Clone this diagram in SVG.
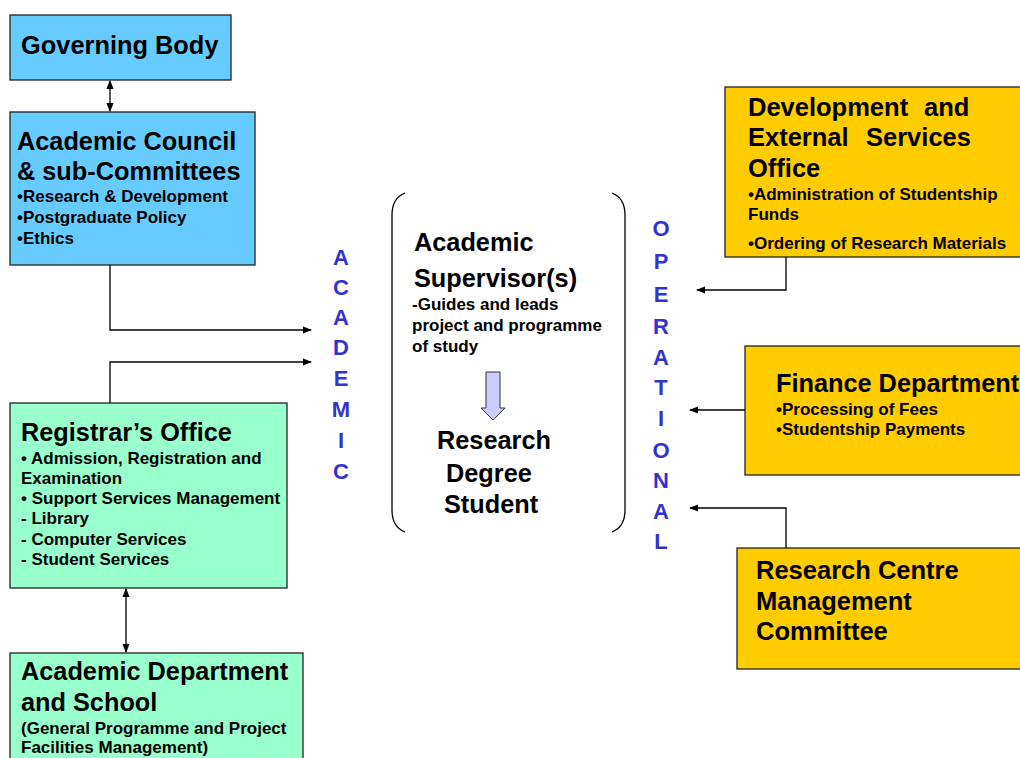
<svg xmlns="http://www.w3.org/2000/svg" width="1020" height="758" viewBox="0 0 1020 758">
<style>
text{font-family:"Liberation Sans",Arial,sans-serif;font-weight:bold;fill:#000}
.blue{fill:#66CCFF;stroke:#222;stroke-width:1.3}
.green{fill:#99FFCC;stroke:#222;stroke-width:1.3}
.gold{fill:#FFCC00;stroke:#222;stroke-width:1.3}
.h{font-size:25.3px}
.s{font-size:17px}
.v{font-size:22px;fill:#3333CC;text-anchor:middle}
.c{fill:none;stroke:#000;stroke-width:1.3}
</style>
<defs>
<marker id="ah" viewBox="0 0 10 10" refX="9" refY="5" markerWidth="9" markerHeight="9" markerUnits="userSpaceOnUse" orient="auto-start-reverse">
<path d="M0,1 L10,5 L0,9 Z" fill="#000"/>
</marker>
</defs>
<rect width="1020" height="758" fill="#fff"/>

<g id="governing-body">
<rect class="blue" x="10" y="15" width="221" height="65"/>
<text class="h" x="21" y="54" style="font-size:25.4px">Governing Body</text>
</g>

<g id="academic-council">
<rect class="blue" x="10" y="112" width="245" height="153"/>
<text class="h" x="17" y="150">Academic Council</text>
<text class="h" x="17" y="180">&amp; sub-Committees</text>
<text class="s" x="17" y="202">•Research &amp; Development</text>
<text class="s" x="17" y="223">•Postgraduate Policy</text>
<text class="s" x="17" y="244">•Ethics</text>
</g>

<g id="registrars-office">
<rect class="green" x="10" y="403" width="277" height="185"/>
<text class="h" x="21" y="441">Registrar’s Office</text>
<text class="s" x="21" y="464">• Admission, Registration and</text>
<text class="s" x="21" y="484">Examination</text>
<text class="s" x="21" y="504">• Support Services Management</text>
<text class="s" x="21" y="524">- Library</text>
<text class="s" x="21" y="545">- Computer Services</text>
<text class="s" x="21" y="565">- Student Services</text>
</g>

<g id="academic-department">
<rect class="green" x="10" y="653" width="293" height="110"/>
<text class="h" x="21" y="680">Academic Department</text>
<text class="h" x="21" y="711">and School</text>
<text class="s" x="21" y="734">(General Programme and Project</text>
<text class="s" x="21" y="753">Facilities Management)</text>
</g>

<g id="supervisor-student">
<path class="c" d="M405,193 Q392,198 392,215 L392,510 Q392,527 405,532"/>
<path class="c" d="M612,193 Q625,198 625,215 L625,510 Q625,527 612,532"/>
<text class="h" x="414" y="251">Academic</text>
<text class="h" x="414" y="287">Supervisor(s)</text>
<text class="s" x="412" y="310">-Guides and leads</text>
<text class="s" x="412" y="331">project and programme</text>
<text class="s" x="412" y="352">of study</text>
<path d="M486,372 L500,372 L500,408 L505,408 L493,420 L481,408 L486,408 Z" fill="#CCCCFF" stroke="#333" stroke-width="1"/>
<text class="h" x="437" y="449">Research</text>
<text class="h" x="446" y="482">Degree</text>
<text class="h" x="444" y="513">Student</text>
</g>

<g id="academic-label">
<text class="v" x="341" y="265">A</text>
<text class="v" x="341" y="295">C</text>
<text class="v" x="341" y="325">A</text>
<text class="v" x="341" y="355">D</text>
<text class="v" x="341" y="386">E</text>
<text class="v" x="341" y="417">M</text>
<text class="v" x="341" y="448">I</text>
<text class="v" x="341" y="479">C</text>
</g>

<g id="operational-label">
<text class="v" x="661" y="236">O</text>
<text class="v" x="661" y="269">P</text>
<text class="v" x="661" y="302">E</text>
<text class="v" x="661" y="334">R</text>
<text class="v" x="661" y="365">A</text>
<text class="v" x="661" y="395">T</text>
<text class="v" x="661" y="426">I</text>
<text class="v" x="661" y="458">O</text>
<text class="v" x="661" y="488">N</text>
<text class="v" x="661" y="519">A</text>
<text class="v" x="661" y="549">L</text>
</g>

<g id="development-office">
<rect class="gold" x="725" y="87" width="300" height="170"/>
<text class="h" y="116" style="font-size:25.5px"><tspan x="748">Development</tspan><tspan x="924">and</tspan></text>
<text class="h" y="146" style="font-size:25.5px"><tspan x="748">External</tspan><tspan x="866">Services</tspan></text>
<text class="h" x="748" y="177" style="font-size:25.5px">Office</text>
<text class="s" x="748" y="200">•Administration of Studentship</text>
<text class="s" x="748" y="220">Funds</text>
<text class="s" x="748" y="249">•Ordering of Research Materials</text>
</g>

<g id="finance-department">
<rect class="gold" x="745" y="346" width="280" height="129"/>
<text class="h" x="776" y="392">Finance Department</text>
<text class="s" x="776" y="415">•Processing of Fees</text>
<text class="s" x="776" y="435">•Studentship Payments</text>
</g>

<g id="research-centre">
<rect class="gold" x="737" y="548" width="288" height="121"/>
<text class="h" x="756" y="579" style="font-size:25.5px">Research Centre</text>
<text class="h" x="756" y="610" style="font-size:25.5px">Management</text>
<text class="h" x="756" y="640" style="font-size:25.5px">Committee</text>
</g>

<g id="connectors">
<line class="c" x1="110" y1="81" x2="110" y2="111" marker-start="url(#ah)" marker-end="url(#ah)"/>
<line class="c" x1="126" y1="589" x2="126" y2="652" marker-start="url(#ah)" marker-end="url(#ah)"/>
<polyline class="c" points="110,265 110,330 311,330" marker-end="url(#ah)"/>
<polyline class="c" points="110,403 110,362 311,362" marker-end="url(#ah)"/>
<polyline class="c" points="786,257 786,290 697,290" marker-end="url(#ah)"/>
<line class="c" x1="745" y1="410" x2="690" y2="410" marker-end="url(#ah)"/>
<polyline class="c" points="786,548 786,508 690,508" marker-end="url(#ah)"/>
</g>
</svg>
